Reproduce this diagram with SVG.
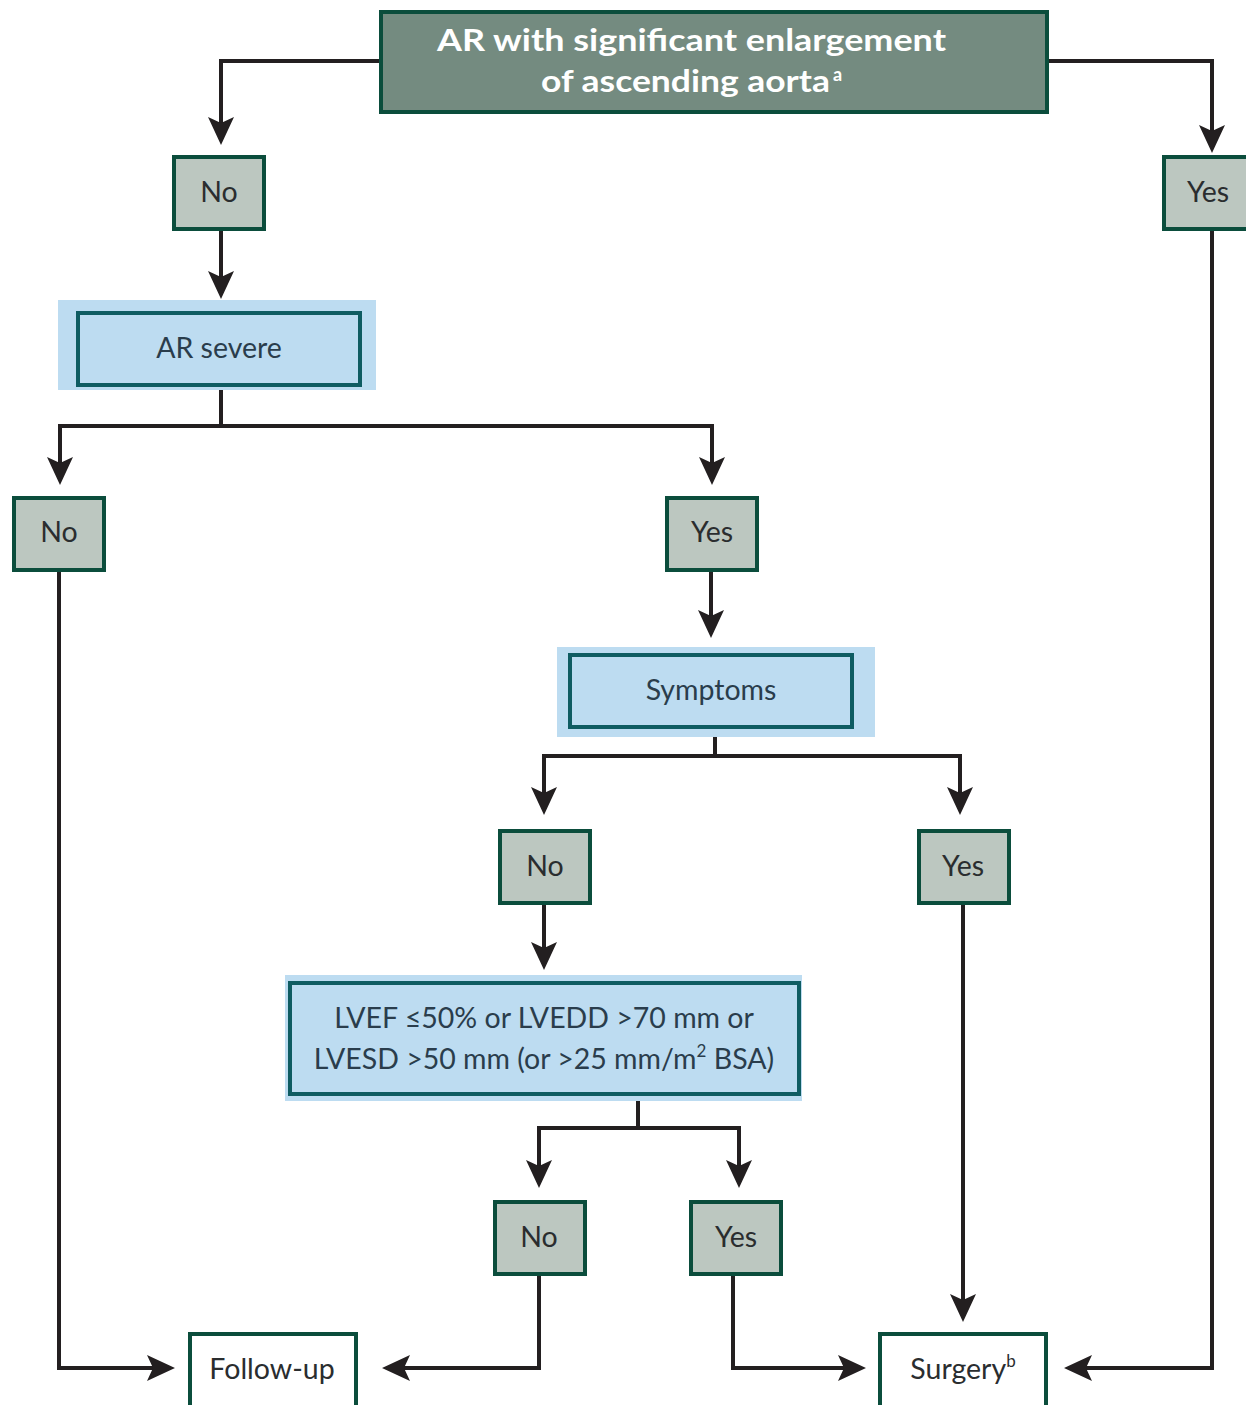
<svg xmlns="http://www.w3.org/2000/svg" width="1246" height="1405" viewBox="0 0 1246 1405">
<defs>
<marker id="ah" markerUnits="userSpaceOnUse" markerWidth="30" markerHeight="26" refX="10" refY="13" orient="auto">
<path d="M0,0 L28,13 L0,26 L6,13 Z" fill="#231f20"/>
</marker>
<style>
.cn{fill:none;stroke:#231f20;stroke-width:4}
.cm{fill:none;stroke:#231f20;stroke-width:4;marker-end:url(#ah)}
.gb{fill:#bcc7c0;stroke:#0b4d3c;stroke-width:4}
.wb{fill:#ffffff;stroke:#0b4d3c;stroke-width:4}
.bg{fill:#bddcf1}
.bb{fill:#bddcf1;stroke:#0f5c62;stroke-width:4}
.t{font-family:Lato,"Open Sans",sans-serif;font-size:28.5px;fill:#2a2d2f;text-anchor:middle}
.tb{font-family:Lato,"Open Sans",sans-serif;font-size:28.5px;fill:#2a3d4c;text-anchor:middle}
.tt{font-family:Lato,"Open Sans",sans-serif;font-size:31px;font-weight:bold;fill:#ffffff}
.ts{font-family:Lato,"Open Sans",sans-serif;font-size:18px;font-weight:bold;fill:#ffffff}
.sp{font-size:17px}
</style>
</defs>
<g id="connectors">
<path class="cm" d="M380,61 H221 V127"/>
<path class="cm" d="M1048,61 H1212 V135"/>
<path class="cm" d="M221,229 V281"/>
<path class="cn" d="M221,385 V426"/>
<path class="cm" d="M221,426 H60 V467"/>
<path class="cm" d="M221,426 H712 V467"/>
<path class="cm" d="M711,570 V620"/>
<path class="cn" d="M715,727 V756"/>
<path class="cm" d="M715,756 H544 V797"/>
<path class="cm" d="M715,756 H960 V797"/>
<path class="cm" d="M544,903 V952"/>
<path class="cn" d="M638,1094 V1128"/>
<path class="cm" d="M638,1128 H539 V1170"/>
<path class="cm" d="M638,1128 H739 V1170"/>
<path class="cm" d="M59,570 V1368 H157"/>
<path class="cm" d="M539,1274 V1368 H400"/>
<path class="cm" d="M733,1274 V1368 H848"/>
<path class="cm" d="M963,903 V1304"/>
<path class="cm" d="M1212,229 V1368 H1082"/>
</g>
<g id="n-top">
<rect x="381" y="12" width="666" height="100" fill="#748b80" stroke="#0b4d3c" stroke-width="4"/>
<text class="tt" x="437" y="51" textLength="509" lengthAdjust="spacingAndGlyphs">AR with significant enlargement</text>
<text class="tt" x="541" y="92" textLength="289" lengthAdjust="spacingAndGlyphs">of ascending aorta</text>
<text class="ts" x="833" y="81">a</text>
</g>
<g id="n-no1">
<rect class="gb" x="174" y="157" width="90" height="72"/>
<text class="t" x="219" y="202">No</text>
</g>
<g id="n-yes1">
<rect class="gb" x="1164" y="157" width="90" height="72"/>
<text class="t" x="1208" y="202">Yes</text>
</g>
<g id="n-arsevere">
<rect class="bg" x="58" y="300" width="318" height="90"/>
<rect class="bb" x="78" y="313" width="282" height="72"/>
<text class="tb" x="219" y="358">AR severe</text>
</g>
<g id="n-no2">
<rect class="gb" x="14" y="498" width="90" height="72"/>
<text class="t" x="59" y="542">No</text>
</g>
<g id="n-yes2">
<rect class="gb" x="667" y="498" width="90" height="72"/>
<text class="t" x="712" y="542">Yes</text>
</g>
<g id="n-symptoms">
<rect class="bg" x="557" y="647" width="318" height="90"/>
<rect class="bb" x="570" y="655" width="282" height="72"/>
<text class="tb" x="711" y="700">Symptoms</text>
</g>
<g id="n-no3">
<rect class="gb" x="500" y="831" width="90" height="72"/>
<text class="t" x="545" y="876">No</text>
</g>
<g id="n-yes3">
<rect class="gb" x="919" y="831" width="90" height="72"/>
<text class="t" x="963" y="876">Yes</text>
</g>
<g id="n-lvef">
<rect class="bg" x="285" y="975" width="517" height="126"/>
<rect class="bb" x="290" y="983" width="509" height="111"/>
<text class="tb" x="544" y="1028">LVEF ≤50% or LVEDD &gt;70 mm or</text>
<text class="tb" x="544" y="1069">LVESD &gt;50 mm (or &gt;25 mm/m<tspan class="sp" dy="-12">2</tspan><tspan dy="12"> BSA)</tspan></text>
</g>
<g id="n-no4">
<rect class="gb" x="495" y="1202" width="90" height="72"/>
<text class="t" x="539" y="1247">No</text>
</g>
<g id="n-yes4">
<rect class="gb" x="691" y="1202" width="90" height="72"/>
<text class="t" x="736" y="1247">Yes</text>
</g>
<g id="n-followup">
<rect class="wb" x="190" y="1334" width="166" height="80"/>
<text class="t" x="272" y="1379">Follow-up</text>
</g>
<g id="n-surgery">
<rect class="wb" x="880" y="1334" width="166" height="80"/>
<text class="t" x="963" y="1379">Surgery<tspan class="sp" dy="-12">b</tspan></text>
</g>
</svg>
